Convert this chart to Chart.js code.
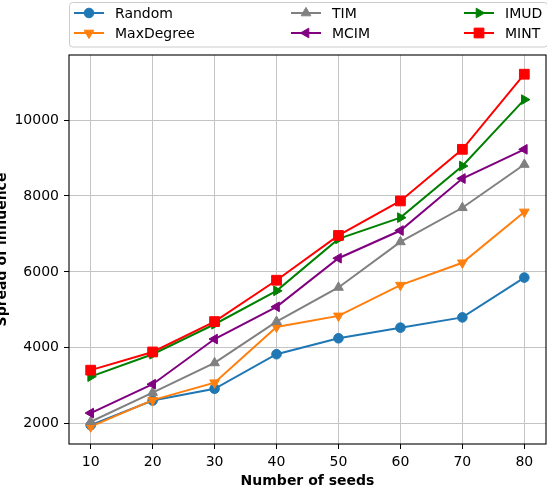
<!DOCTYPE html>
<html>
<head>
<meta charset="utf-8">
<script src="https://cdn.jsdelivr.net/npm/chart.js@4"></script>
<style>
  html, body { margin: 0; padding: 0; background: #fff; }
  #wrap { width: 547px; height: 490px; }
</style>
</head>
<body>
<div id="wrap"><canvas id="chart" width="547" height="490"></canvas></div>
<script>
// Datos
const seeds = [10, 20, 30, 40, 50, 60, 70, 80];
const randomVals = [1960, 2610, 2920, 3830, 4250, 4530, 4800, 5850];
const maxDegreeVals = [1920, 2620, 3080, 4550, 4840, 5650, 6240, 7580];
const timVals = [2050, 2820, 3600, 4690, 5590, 6790, 7690, 8830];
const mcimVals = [2280, 3040, 4230, 5080, 6360, 7090, 8460, 9230];
const imudVals = [3240, 3830, 4620, 5500, 6870, 7430, 8790, 10540];
const mintVals = [3410, 3890, 4690, 5780, 6960, 7870, 9230, 11210];
const yTicks = [2000, 4000, 6000, 8000, 10000];

const FONT = "'DejaVu Sans', sans-serif";

const series = [
    { label: 'Random', data: randomVals, color: '#1f77b4', style: 'circle', rot: 0, r: 4.8 },
    { label: 'MaxDegree', data: maxDegreeVals, color: '#ff7f0e', style: 'triangle', rot: 180, r: 5.6 },
    { label: 'TIM', data: timVals, color: '#808080', style: 'triangle', rot: 0, r: 5.6 },
    { label: 'MCIM', data: mcimVals, color: '#800080', style: 'triangle', rot: -90, r: 5.6 },
    { label: 'IMUD', data: imudVals, color: '#008000', style: 'triangle', rot: 90, r: 5.6 },
    { label: 'MINT', data: mintVals, color: '#ff0000', style: 'rect', rot: 0, r: 6.9 }
];

const datasets = series.map((s, i) => ({
    label: s.label,
    data: seeds.map((x, j) => ({ x: x, y: s.data[j] })),
    borderColor: s.color,
    backgroundColor: s.color,
    borderWidth: 2,
    pointStyle: s.style,
    pointRotation: s.rot,
    pointRadius: s.r,
    pointBorderWidth: 1,
    pointBackgroundColor: s.color,
    pointBorderColor: s.color,
    tension: 0,
    order: series.length - i
}));

/**
 * Dibuja un marcador pequeño para la leyenda
 */
function drawMarker(ctx, s, x, y) {
    ctx.save();
    ctx.fillStyle = s.color;
    ctx.strokeStyle = s.color;
    ctx.lineWidth = 1;
    ctx.beginPath();
    if (s.style === 'circle') {
        ctx.arc(x, y, s.r, 0, Math.PI * 2);
    } else if (s.style === 'rect') {
        const h = s.r * Math.SQRT1_2;
        ctx.rect(x - h, y - h, 2 * h, 2 * h);
    } else {
        let rad = s.rot * Math.PI / 180;
        for (let k = 0; k < 3; k++) {
            const px = x + Math.sin(rad) * s.r;
            const py = y - Math.cos(rad) * s.r;
            if (k === 0) ctx.moveTo(px, py); else ctx.lineTo(px, py);
            rad += 2 * Math.PI / 3;
        }
        ctx.closePath();
    }
    ctx.fill();
    ctx.stroke();
    ctx.restore();
}

// Marco, leyenda y título del eje Y
const extrasPlugin = {
    id: 'extras',
    afterDraw(chart) {
        const ctx = chart.ctx;
        const a = chart.chartArea;

        // marco completo del área
        ctx.save();
        ctx.strokeStyle = '#000';
        ctx.lineWidth = 1.1;
        ctx.strokeRect(a.left, a.top, a.right - a.left, a.bottom - a.top);
        ctx.restore();

        // título del eje Y (cortado a la izquierda como en el original)
        ctx.save();
        ctx.translate(6, (a.top + a.bottom) / 2);
        ctx.rotate(-Math.PI / 2);
        ctx.font = 'bold 14px ' + FONT;
        ctx.fillStyle = '#000';
        ctx.textAlign = 'center';
        ctx.textBaseline = 'alphabetic';
        ctx.fillText('Spread of influence', 0, 0);
        ctx.restore();

        // leyenda en 3 columnas
        ctx.save();
        ctx.beginPath();
        ctx.roundRect(69.5, 2.5, 478, 44.5, 3);
        ctx.fillStyle = 'rgba(255,255,255,0.8)';
        ctx.fill();
        ctx.strokeStyle = '#cccccc';
        ctx.lineWidth = 1;
        ctx.stroke();
        const colX = [74, 291, 464];
        const rowY = [13, 33];
        ctx.font = '14px ' + FONT;
        ctx.textBaseline = 'middle';
        ctx.textAlign = 'left';
        series.forEach((s, i) => {
            const cx = colX[Math.floor(i / 2)];
            const cy = rowY[i % 2];
            ctx.strokeStyle = s.color;
            ctx.lineWidth = 2;
            ctx.beginPath();
            ctx.moveTo(cx, cy);
            ctx.lineTo(cx + 30, cy);
            ctx.stroke();
            drawMarker(ctx, s, cx + 15, cy);
            ctx.fillStyle = '#000';
            ctx.fillText(s.label, cx + 41, cy + 1);
        });
        ctx.restore();
    }
};

const chart = new Chart(document.getElementById('chart').getContext('2d'), {
    type: 'line',
    data: { datasets: datasets },
    options: {
        responsive: false,
        animation: false,
        layout: { autoPadding: false, padding: { top: 55, right: 1, left: 0, bottom: 0 } },
        plugins: {
            legend: { display: false },
            tooltip: { enabled: false }
        },
        scales: {
            x: {
                type: 'linear',
                min: 6.5,
                max: 83.5,
                afterBuildTicks: (scale) => {
                    scale.ticks = seeds.map(v => ({ value: v }));
                },
                afterFit: (scale) => {
                    scale.height = 46;
                    scale.paddingLeft = 0;
                    scale.paddingRight = 0;
                },
                border: { display: false },
                grid: { color: '#c4c4c4', lineWidth: 1, tickLength: 5, tickColor: '#000' },
                ticks: {
                    font: { family: FONT, size: 14 },
                    color: '#000',
                    padding: 5,
                    maxRotation: 0,
                    callback: (v) => v
                },
                title: {
                    display: true,
                    text: 'Number of seeds',
                    font: { family: FONT, size: 14, weight: 'bold' },
                    color: '#000',
                    padding: { top: 0, bottom: 0 }
                }
            },
            y: {
                min: 1464,
                max: 11716,
                afterBuildTicks: (scale) => {
                    scale.ticks = yTicks.map(v => ({ value: v }));
                },
                afterFit: (scale) => {
                    scale.width = 69;
                    scale.paddingTop = 0;
                    scale.paddingBottom = 0;
                },
                border: { display: false },
                grid: { color: '#c4c4c4', lineWidth: 1, tickLength: 5, tickColor: '#000' },
                ticks: {
                    font: { family: FONT, size: 14 },
                    color: '#000',
                    padding: 5,
                    callback: (v) => String(v)
                }
            }
        }
    },
    plugins: [extrasPlugin]
});
</script>
</body>
</html>
